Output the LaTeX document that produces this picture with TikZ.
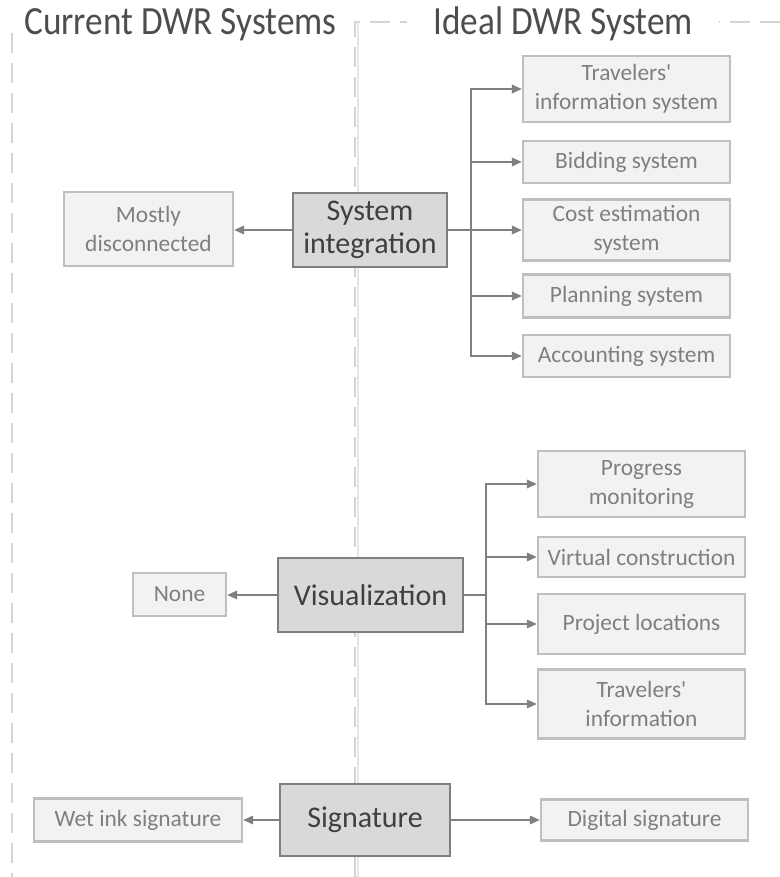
\documentclass[tikz,border=0pt]{standalone}
\usepackage{fontspec}
\setmainfont{Carlito}
\newfontfamily\titlefont[FakeStretch=0.88]{Carlito}
\usetikzlibrary{arrows.meta}
\definecolor{framegray}{HTML}{D4D4D4}
\definecolor{thingray}{HTML}{E6E6E6}
\definecolor{titlegray}{HTML}{4D4D4D}
\definecolor{darkfill}{HTML}{D9D9D9}
\definecolor{darkline}{HTML}{7F7F7F}
\definecolor{darktext}{HTML}{404040}
\definecolor{lightfill}{HTML}{F2F2F2}
\definecolor{lightline}{HTML}{BFBFBF}
\definecolor{lighttext}{HTML}{7F7F7F}
\definecolor{arrowgray}{HTML}{808080}
\tikzset{
  frameline/.style={draw=framegray, line width=1.1pt, dash pattern=on 10pt off 5pt},
  divider/.style={draw=thingray, line width=0.6pt},
  heading/.style={anchor=base west, inner ysep=2pt, fill=white, text=titlegray,
    font=\titlefont\fontsize{20pt}{24pt}\selectfont},
  topicbox/.style={draw=darkline, fill=darkfill, line width=1.3pt, text=darktext,
    align=center, inner sep=0pt, font=\fontsize{15pt}{16.5pt}\selectfont},
  itembox/.style={draw=lightline, fill=lightfill, line width=1.1pt, text=lighttext,
    align=center, inner sep=0pt, font=\fontsize{11.7pt}{14.5pt}\selectfont},
  sz/.style 2 args={minimum width=#1*0.5pt, minimum height=#2*0.5pt},
  arr/.style={draw=arrowgray, line width=1pt, -{Triangle[length=5pt,width=4.2pt]}},
}
\begin{document}
\begin{tikzpicture}[x=0.5pt, y=-0.5pt]
  \useasboundingbox (0,0) rectangle (780,877);

  % column frames
  \draw[frameline] (12,33) -- (12,877);
  \draw[frameline] (355,877) -- (355,22) -- (780,22);
  \draw[divider] (358,22) -- (358,877);

  % column headings
  \node[heading, inner xsep=2pt] (hcur) at (20,35) {Current DWR Systems};
  \node[heading, inner xsep=13pt] (hideal) at (407,35) {Ideal DWR System};

  % system integration
  \node[topicbox, sz={154}{74}] (si) at (370,230) {System\\integration};
  \node[itembox, sz={169}{74}] (md) at (148.5,229) {Mostly\\disconnected};
  \node[itembox, sz={207}{66}] (t1) at (626.5,89) {Travelers\textquotesingle\\information system};
  \node[itembox, sz={207}{42}] (t2) at (626.5,162) {Bidding system};
  \node[itembox, sz={207}{61}] (t3) at (626.5,230) {Cost estimation\\system};
  \node[itembox, sz={207}{43}] (t4) at (626.5,296) {Planning system};
  \node[itembox, sz={207}{42}] (t5) at (626.5,356) {Accounting system};

  \draw[arr] (si.west) -- (si.west -| md.east);
  \foreach \t in {t1,t2,t3,t4,t5}
    \draw[arr] (si.east) -- ++(23,0) |- (\t.west);

  % visualization
  \node[topicbox, sz={185}{74}] (vz) at (370.5,595) {Visualization};
  \node[itembox, sz={93}{43}] (nn) at (179.5,594.5) {None};
  \node[itembox, sz={207}{66}] (v1) at (641.5,484) {Progress\\monitoring};
  \node[itembox, sz={207}{40}] (v2) at (641.5,557) {Virtual construction};
  \node[itembox, sz={207}{60}] (v3) at (641.5,624) {Project locations};
  \node[itembox, sz={207}{69}] (v4) at (641.5,704) {Travelers\textquotesingle\\information};

  \draw[arr] (vz.west) -- (vz.west -| nn.east);
  \foreach \v in {v1,v2,v3,v4}
    \draw[arr] (vz.east) -- ++(22,0) |- (\v.west);

  % signature
  \node[topicbox, sz={170}{72}] (sg) at (365,820) {Signature};
  \node[itembox, sz={208}{43}] (wi) at (138,820) {Wet ink signature};
  \node[itembox, sz={207}{41}] (ds) at (644.5,820) {Digital signature};

  \draw[arr] (sg.west) -- (wi.east);
  \draw[arr] (sg.east) -- (ds.west);
\end{tikzpicture}
\end{document}
